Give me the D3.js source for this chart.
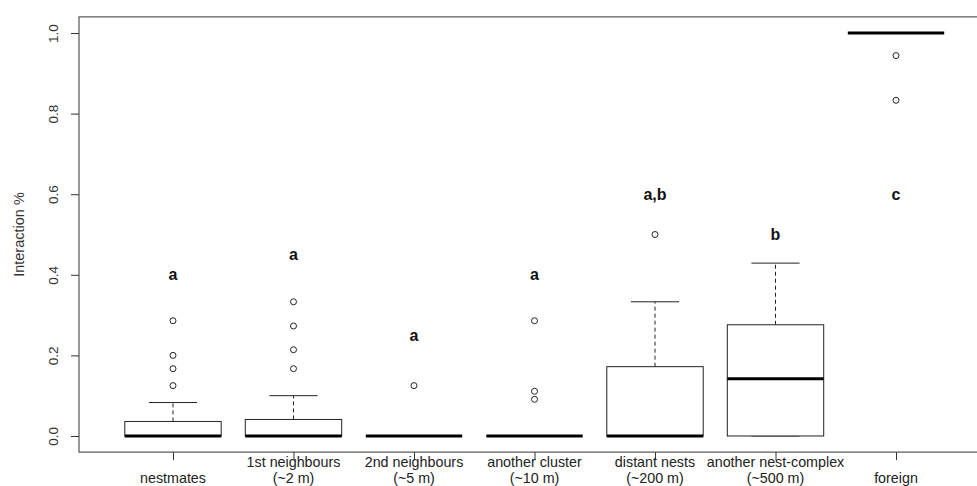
<!DOCTYPE html>
<html><head><meta charset="utf-8">
<script src="https://cdn.jsdelivr.net/npm/d3@7"></script>
<style>
html,body{margin:0;padding:0;background:#fff;}
svg{display:block;font-family:"Liberation Sans",Arial,sans-serif;}
</style></head>
<body>
<svg id="chart" width="977" height="486"></svg>
<script>
// ---- data ----
const categories = ["nestmates","1st neighbours\n(~2 m)","2nd neighbours\n(~5 m)","another cluster\n(~10 m)","distant nests\n(~200 m)","another nest-complex\n(~500 m)","foreign"];
const whiskerLow  = [0, 0, 0, 0, 0, 0, 1];
const q1          = [0, 0, 0, 0, 0, 0, 1];
const median      = [0, 0, 0, 0, 0, 0.142, 1];
const q3          = [0.036, 0.041, 0, 0, 0.172, 0.276, 1];
const whiskerHigh = [0.083, 0.1, 0, 0, 0.333, 0.429, 1];
const outliers    = [[0.125,0.167,0.2,0.286],[0.167,0.214,0.273,0.333],[0.125],[0.091,0.111,0.286],[0.5],[],[0.833,0.944]];
const letters     = ["a","a","a","a","a,b","b","c"];
const letterPos   = [0.4,0.45,0.25,0.4,0.6,0.5,0.6];
const yTicks      = [0,0.2,0.4,0.6,0.8,1.0];
const yTickLabels = ["0.0","0.2","0.4","0.6","0.8","1.0"];
const yTitle      = "Interaction %";

(function(){
const svg = d3.select("#chart");
const pL = 79, pT = 16.9, pB = 452.1, pR = 990;
const x = d3.scaleLinear().domain([0.22, 7.78]).range([pL, pR]);
const y = d3.scaleLinear().domain([-0.04, 1.04]).range([pB, pT]);
const unit = x(2) - x(1);
const boxW = unit * 0.8;
const capW = boxW * 0.5;
const ink = "#222";

svg.append("rect").attr("x", pL).attr("y", pT).attr("width", pR - pL).attr("height", pB - pT)
  .attr("fill", "none").attr("stroke", "#333").attr("stroke-width", 1);

const yAxis = d3.axisLeft(y).tickValues(yTicks).tickFormat((d,i)=>yTickLabels[i]).tickSize(8).tickPadding(0);
const yg = svg.append("g").attr("transform", `translate(${pL},0)`).call(yAxis);
yg.select(".domain").remove();
yg.selectAll(".tick line").attr("stroke", "#333");
yg.selectAll(".tick text").attr("font-size", 13.5).attr("fill", "#333")
  .attr("text-anchor", "middle").attr("transform", "rotate(-90)")
  .attr("x", 0).attr("y", -26).attr("dy", "0.35em");

svg.append("text").attr("transform", `translate(19,${(pT+pB)/2}) rotate(-90)`)
  .attr("text-anchor", "middle").attr("dy", "0.35em").attr("font-size", 14.5).attr("fill", "#333").text(yTitle);

const idx = categories.map((c,i)=>i+1);
const xAxis = d3.axisBottom(x).tickValues(idx).tickSize(8).tickFormat("");
const xg = svg.append("g").attr("transform", `translate(0,${pB})`).call(xAxis);
xg.select(".domain").remove();
xg.selectAll(".tick line").attr("stroke", "#333");
categories.forEach((c,i)=>{
  const lines = c.split("\n");
  const t = svg.append("text").attr("x", x(i+1)).attr("text-anchor", "middle").attr("font-size", 14.3).attr("fill", "#222");
  if (lines.length === 1) {
    t.attr("y", 483).text(lines[0]);
  } else {
    lines.forEach((l,j)=> t.append("tspan").attr("x", x(i+1)).attr("y", 467 + j*16).text(l));
  }
});

const g = svg.append("g");
categories.forEach((c,i)=>{
  const cx = x(i+1);
  if (whiskerHigh[i] > q3[i]) {
    g.append("line").attr("x1", cx).attr("x2", cx).attr("y1", y(q3[i])).attr("y2", y(whiskerHigh[i]))
      .attr("stroke", ink).attr("stroke-dasharray", "4,3");
  }
  if (whiskerLow[i] < q1[i]) {
    g.append("line").attr("x1", cx).attr("x2", cx).attr("y1", y(q1[i])).attr("y2", y(whiskerLow[i]))
      .attr("stroke", ink).attr("stroke-dasharray", "4,3");
  }
  g.append("line").attr("x1", cx - capW/2).attr("x2", cx + capW/2).attr("y1", y(whiskerHigh[i])).attr("y2", y(whiskerHigh[i])).attr("stroke", ink);
  g.append("line").attr("x1", cx - capW/2).attr("x2", cx + capW/2).attr("y1", y(whiskerLow[i])).attr("y2", y(whiskerLow[i])).attr("stroke", ink);
  g.append("rect").attr("x", cx - boxW/2).attr("y", y(q3[i])).attr("width", boxW).attr("height", Math.max(0, y(q1[i]) - y(q3[i])))
    .attr("fill", "#fff").attr("stroke", ink).attr("stroke-width", 1);
  g.append("line").attr("x1", cx - boxW/2).attr("x2", cx + boxW/2).attr("y1", y(median[i])).attr("y2", y(median[i]))
    .attr("stroke", "#000").attr("stroke-width", 3);
  outliers[i].forEach(v=>{
    g.append("circle").attr("cx", cx).attr("cy", y(v)).attr("r", 3)
      .attr("fill", "none").attr("stroke", ink).attr("stroke-width", 1);
  });
  g.append("text").attr("x", cx).attr("y", y(letterPos[i])).attr("dy", "0.35em").attr("text-anchor", "middle")
    .attr("font-size", 16).attr("font-weight", "bold").attr("fill", "#111").text(letters[i]);
});
})();
</script>
</body></html>
